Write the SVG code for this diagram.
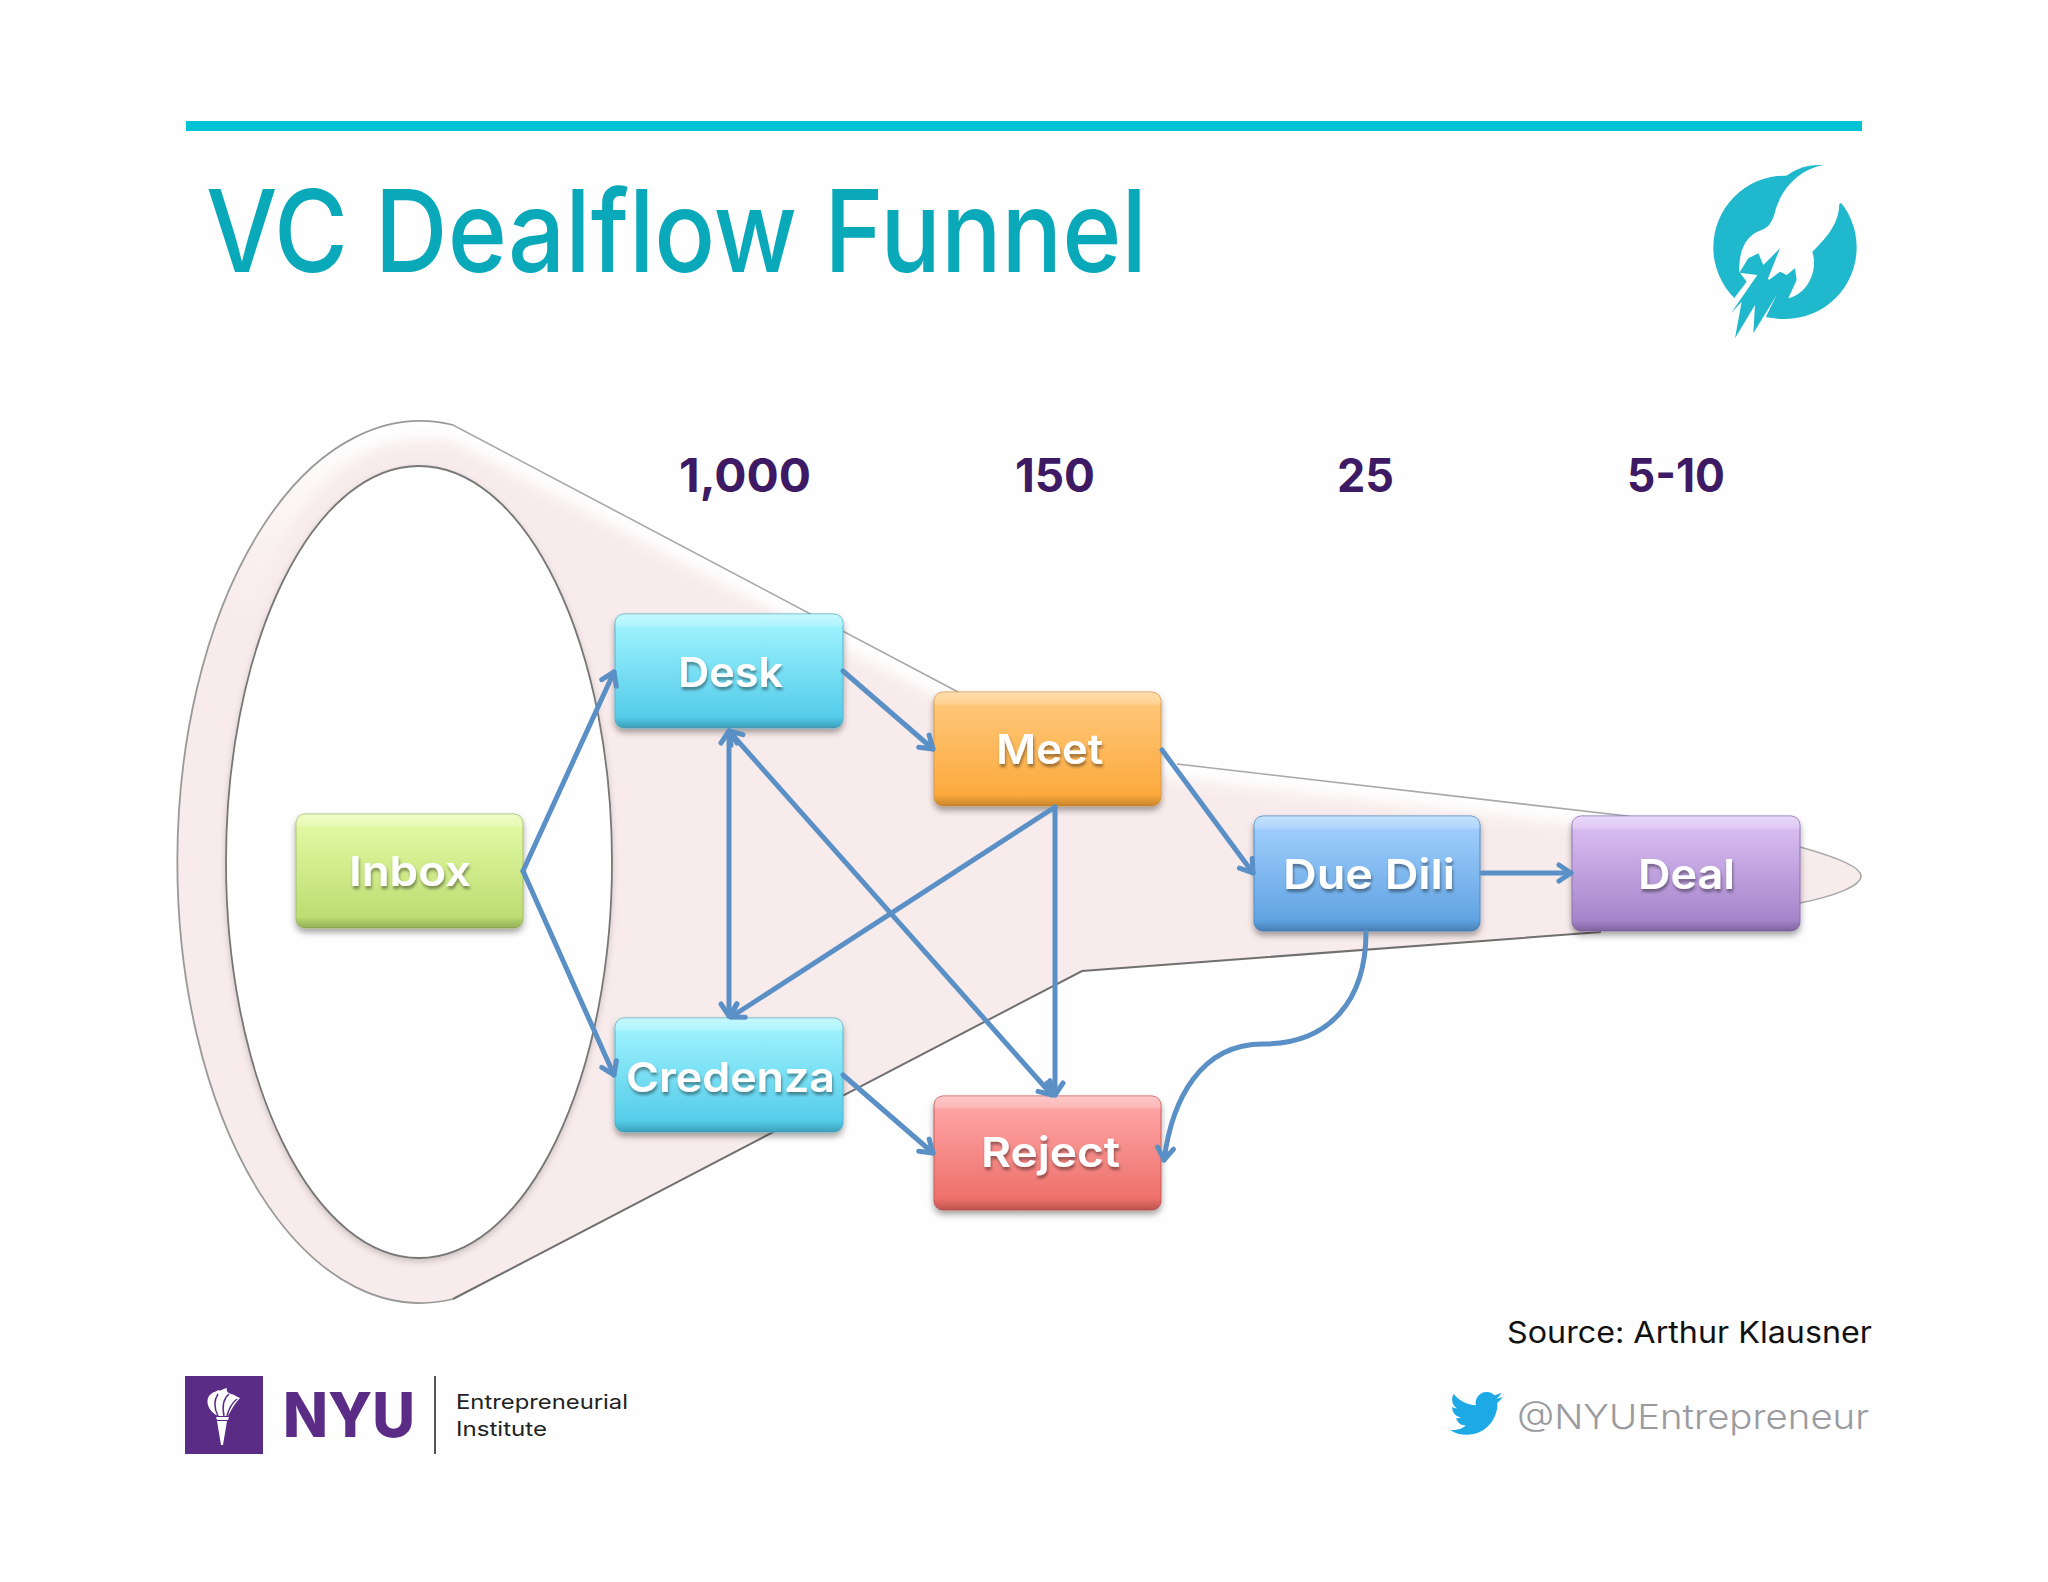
<svg xmlns="http://www.w3.org/2000/svg" width="2048" height="1582" viewBox="0 0 2048 1582">
<style>
text{font-family:"Inter","Liberation Sans",sans-serif}
.num{font-size:46px;font-weight:700;fill:#3d1a63}
.lbl{font-size:41px;font-weight:600;fill:#fff;filter:url(#ts)}
.box{stroke-width:1;filter:url(#ds)}
.gloss{fill:url(#gl)}
.c{fill:none;stroke:#5a90c6;stroke-width:5;stroke-linecap:round}
.a{marker-end:url(#ah)}
.b{marker-start:url(#ah);marker-end:url(#ah)}
</style>
<defs>
<filter id="ds" x="-10%" y="-10%" width="120%" height="125%"><feDropShadow dx="0" dy="4" stdDeviation="3" flood-color="#000" flood-opacity=".35"/></filter>
<filter id="ts" x="-10%" y="-20%" width="120%" height="150%"><feDropShadow dx="1" dy="3" stdDeviation="1.5" flood-color="#000" flood-opacity=".4"/></filter>
<filter id="bl" x="-10%" y="-10%" width="120%" height="120%"><feGaussianBlur stdDeviation="7"/></filter>
<filter id="is" x="-5%" y="-5%" width="110%" height="110%"><feDropShadow dx="0" dy="3" stdDeviation="3" flood-color="#000" flood-opacity=".18"/></filter>
<marker id="ah" markerUnits="userSpaceOnUse" markerWidth="32" markerHeight="32" refX="22" refY="16" orient="auto-start-reverse" overflow="visible"><path d="M10,8 L22,16 L10,24" fill="none" stroke="#5a90c6" stroke-width="5" stroke-linecap="round" stroke-linejoin="round"/></marker>
<linearGradient id="gl" x1="0" y1="0" x2="0" y2="1"><stop offset="0" stop-color="#fff" stop-opacity=".35"/><stop offset=".1" stop-color="#fff" stop-opacity=".2"/><stop offset=".12" stop-color="#fff" stop-opacity="0"/><stop offset=".9" stop-color="#000" stop-opacity="0"/><stop offset=".97" stop-color="#000" stop-opacity=".14"/><stop offset="1" stop-color="#000" stop-opacity=".2"/></linearGradient>
<linearGradient id="gw" gradientUnits="userSpaceOnUse" x1="240" y1="620" x2="360" y2="440"><stop offset="0" stop-color="#fefefe" stop-opacity="0"/><stop offset="1" stop-color="#fefefe"/></linearGradient>
<linearGradient id="gDesk" x1="0" y1="0" x2="0" y2="1"><stop offset="0" stop-color="#a6f6ff"/><stop offset="1" stop-color="#4cc8e8"/></linearGradient>
<linearGradient id="gInbox" x1="0" y1="0" x2="0" y2="1"><stop offset="0" stop-color="#e6fca8"/><stop offset="1" stop-color="#b8da6c"/></linearGradient>
<linearGradient id="gMeet" x1="0" y1="0" x2="0" y2="1"><stop offset="0" stop-color="#ffcb80"/><stop offset="1" stop-color="#fca636"/></linearGradient>
<linearGradient id="gDue" x1="0" y1="0" x2="0" y2="1"><stop offset="0" stop-color="#a6d2ff"/><stop offset="1" stop-color="#5a9fe0"/></linearGradient>
<linearGradient id="gDeal" x1="0" y1="0" x2="0" y2="1"><stop offset="0" stop-color="#dec4f6"/><stop offset="1" stop-color="#a07ec6"/></linearGradient>
<linearGradient id="gRej" x1="0" y1="0" x2="0" y2="1"><stop offset="0" stop-color="#ffabab"/><stop offset="1" stop-color="#ec6a64"/></linearGradient>
<clipPath id="fc"><path d="M453,425 L960,693 L1040,745 L1177,764 L1627,816 L1800,847 C1840,858 1861,868 1861,876 C1861,886 1835,896 1800,903 L1601,932 L1082,971 L453,1299 A243,441 0 1 1 453,425 Z"/></clipPath>
</defs>
<rect width="2048" height="1582" fill="#fefefe"/>
<rect x="186" y="121" width="1676" height="10" fill="#00c4d6"/>
<text x="206" y="272" font-size="114" font-weight="500" fill="#0aa9b9" textLength="941" lengthAdjust="spacingAndGlyphs">VC Dealflow Funnel</text>
<g id="logo" transform="translate(1680,140) scale(.3333)">
<circle cx="315" cy="322" r="215" fill="#1fb8cc"/>
<path d="M430,75 C375,72 340,90 305,118 L420,130 Z" fill="#1fb8cc"/>
<path d="M430,75 C375,85 315,125 288,205 C278,245 268,262 245,270 C205,283 175,320 178,398 L205,355 L235,340 L250,375 L300,325 L260,425 L300,395 L320,405 L345,385 L350,420 L325,475 C385,460 415,390 397,335 C445,290 478,245 478,192 L560,150 L520,60 Z" fill="#fefefe"/>
<path d="M180,398 L200,425 L160,478 L90,478 L90,640 L258,640 L258,530 L292,462 L232,405 Z" fill="#fefefe"/>
<path d="M232,405 L153,520 L185,485 L165,595 L225,495 L220,580 L292,462 L258,532 L300,536 L320,440 Z" fill="#1fb8cc"/>
</g>
<g id="funnel">
<path d="M453,425 L960,693 L1040,745 L1177,764 L1627,816 L1800,847 C1840,858 1861,868 1861,876 C1861,886 1835,896 1800,903 L1601,932 L1082,971 L453,1299 A243,441 0 1 1 453,425 Z" fill="#f8ebeb"/>
<g clip-path="url(#fc)"><path d="M230,640 C270,480 350,425 420,425 C435,425 445,423 453,425 L960,693 L1040,745 L1177,764 L1627,816 L1800,847" fill="none" stroke="url(#gw)" stroke-width="30" filter="url(#bl)"/></g>
<path d="M453,425 L960,693 M1177,764 L1627,816 L1800,847 C1840,858 1861,868 1861,876 C1861,886 1835,896 1800,903" fill="none" stroke="#a8a8a8" stroke-width="1.6"/>
<path d="M453,1299 A243,441 0 1 1 453,425" fill="none" stroke="#999" stroke-width="1.8"/>
<path d="M1601,932 L1082,971 L453,1299" fill="none" stroke="#707070" stroke-width="2"/>
<ellipse cx="419" cy="862" rx="193" ry="396" fill="#fefefe" stroke="#777" stroke-width="1.8" filter="url(#is)"/>
</g>
<text class="num" x="679" y="492" textLength="132" lengthAdjust="spacingAndGlyphs">1,000</text>
<text class="num" x="1015" y="492" textLength="80" lengthAdjust="spacingAndGlyphs">150</text>
<text class="num" x="1337" y="492" textLength="57" lengthAdjust="spacingAndGlyphs">25</text>
<text class="num" x="1627" y="492" textLength="98" lengthAdjust="spacingAndGlyphs">5-10</text>
<g id="node-inbox"><rect class="box" x="296" y="814" width="227" height="114" rx="9" fill="url(#gInbox)" stroke="#a4bc6a"/><rect class="gloss" x="296" y="814" width="227" height="114" rx="9"/><text class="lbl" x="349" y="886" textLength="122" lengthAdjust="spacingAndGlyphs">Inbox</text></g>
<g id="node-desk"><rect class="box" x="615" y="614" width="228" height="114" rx="9" fill="url(#gDesk)" stroke="#58b4cc"/><rect class="gloss" x="615" y="614" width="228" height="114" rx="9"/><text class="lbl" x="678" y="687" textLength="105" lengthAdjust="spacingAndGlyphs">Desk</text></g>
<g id="node-credenza"><rect class="box" x="615" y="1018" width="228" height="114" rx="9" fill="url(#gDesk)" stroke="#58b4cc"/><rect class="gloss" x="615" y="1018" width="228" height="114" rx="9"/><text class="lbl" x="626" y="1092" textLength="209" lengthAdjust="spacingAndGlyphs">Credenza</text></g>
<g id="node-meet"><rect class="box" x="934" y="692" width="227" height="114" rx="9" fill="url(#gMeet)" stroke="#d89a48"/><rect class="gloss" x="934" y="692" width="227" height="114" rx="9"/><text class="lbl" x="996" y="764" textLength="107" lengthAdjust="spacingAndGlyphs">Meet</text></g>
<g id="node-reject"><rect class="box" x="934" y="1096" width="227" height="114" rx="9" fill="url(#gRej)" stroke="#c85a58"/><rect class="gloss" x="934" y="1096" width="227" height="114" rx="9"/><text class="lbl" x="981" y="1167" textLength="139" lengthAdjust="spacingAndGlyphs">Reject</text></g>
<g id="node-due"><rect class="box" x="1254" y="816" width="226" height="115" rx="9" fill="url(#gDue)" stroke="#4f8cc8"/><rect class="gloss" x="1254" y="816" width="226" height="115" rx="9"/><text class="lbl" x="1283" y="889" textLength="172" lengthAdjust="spacingAndGlyphs">Due Dili</text></g>
<g id="node-deal"><rect class="box" x="1572" y="816" width="228" height="115" rx="9" fill="url(#gDeal)" stroke="#8e70b0"/><rect class="gloss" x="1572" y="816" width="228" height="115" rx="9"/><text class="lbl" x="1638" y="889" textLength="97" lengthAdjust="spacingAndGlyphs">Deal</text></g>
<g id="connectors">
<path class="c a" d="M523,871 L614,672"/>
<path class="c a" d="M523,871 L614,1075"/>
<path class="c a" d="M843,671 L933,749"/>
<path class="c b" d="M729,731 L729,1016"/>
<path class="c a" d="M1055,807 L731,1017"/>
<path class="c b" d="M729,731 L1052,1095"/>
<path class="c a" d="M1055,807 L1055,1095"/>
<path class="c a" d="M1162,750 L1253,873"/>
<path class="c a" d="M1482,873 L1571,873"/>
<path class="c a" d="M1366,932 C1366,1000 1330,1044 1263,1044 C1200,1044 1172,1100 1164,1160"/>
<path class="c a" d="M843,1075 L933,1153"/>
</g>
<text x="1507" y="1343" font-size="30" fill="#111" textLength="365" lengthAdjust="spacingAndGlyphs">Source: Arthur Klausner</text>
<g id="twitter"><path transform="translate(1450,1387) scale(2.2)" fill="#1da9e6" d="M23.953 4.57a10 10 0 01-2.825.775 4.958 4.958 0 002.163-2.723c-.951.555-2.005.959-3.127 1.184a4.92 4.92 0 00-8.384 4.482C7.69 8.095 4.067 6.13 1.64 3.162a4.822 4.822 0 00-.666 2.475c0 1.71.87 3.213 2.188 4.096a4.904 4.904 0 01-2.228-.616v.06a4.923 4.923 0 003.946 4.827 4.996 4.996 0 01-2.212.085 4.936 4.936 0 004.604 3.417 9.867 9.867 0 01-6.102 2.105c-.39 0-.779-.023-1.17-.067a13.995 13.995 0 007.557 2.209c9.053 0 13.998-7.496 13.998-13.985 0-.21 0-.42-.015-.63A9.935 9.935 0 0024 4.59z"/></g>
<text x="1517" y="1429" font-size="34" font-weight="300" fill="#9a9a9f" textLength="352" lengthAdjust="spacingAndGlyphs">@NYUEntrepreneur</text>
<g id="nyu">
<rect x="185" y="1376" width="78" height="78" fill="#5b2c86"/>
<path d="M221,1445 L217,1421 L227,1421 L223,1445 Z M216,1417 L229,1417 L228,1420 L217,1420 Z" fill="#fff"/>
<path d="M218,1416 C209,1412 205,1402 209,1396 C212,1392 216,1392 218,1390 C220,1392 224,1388 227,1388 C226,1391 228,1393 231,1394 C234,1394 237,1397 240,1398 C236,1402 232,1408 228,1416 Z" fill="#fff"/>
<path d="M218,1416 C214,1408 214,1400 218,1394 M224,1416 C222,1406 224,1398 229,1394 M227,1416 C229,1408 232,1403 237,1399" fill="none" stroke="#5b2c86" stroke-width="1.5"/>
<text x="283" y="1437" font-size="62" font-weight="800" fill="#5b2c86" textLength="132" lengthAdjust="spacingAndGlyphs">NYU</text>
<rect x="434" y="1376" width="2" height="78" fill="#555"/>
<text x="456" y="1409" font-size="20" fill="#222" textLength="172" lengthAdjust="spacingAndGlyphs">Entrepreneurial</text>
<text x="456" y="1436" font-size="20" fill="#222" textLength="91" lengthAdjust="spacingAndGlyphs">Institute</text>
</g>
</svg>
